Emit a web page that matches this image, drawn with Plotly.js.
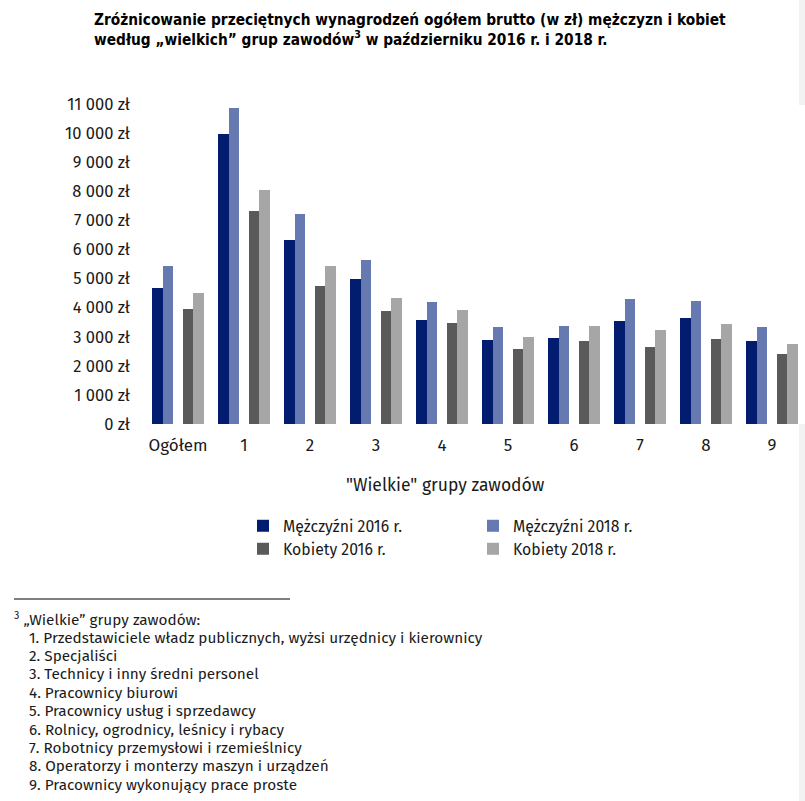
<!DOCTYPE html>
<html>
<head>
<meta charset="utf-8">
<script src="https://cdn.plot.ly/plotly-3.0.1.min.js"></script>
<style>html,body{margin:0;padding:0;background:#fff;}#chart{width:805px;height:801px;}</style>
</head>
<body>
<div id="chart"></div>
<script>
const categories = ["Ogółem", "1", "2", "3", "4", "5", "6", "7", "8", "9"];
const men2016 = [4670, 9960, 6310, 4990, 3560, 2890, 2960, 3550, 3630, 2870];
const men2018 = [5420, 10850, 7210, 5640, 4180, 3330, 3370, 4280, 4230, 3330];
const women2016 = [3940, 7310, 4760, 3890, 3460, 2580, 2860, 2630, 2930, 2390];
const women2018 = [4520, 8030, 5420, 4330, 3910, 2990, 3380, 3230, 3450, 2750];
const seriesNames = ["Mężczyźni 2016 r.", "Mężczyźni 2018 r.", "Kobiety 2016 r.", "Kobiety 2018 r."];
const yTickVals = [0, 1000, 2000, 3000, 4000, 5000, 6000, 7000, 8000, 9000, 10000, 11000];
const yTickText = ["0 zł", "1 000 zł", "2 000 zł", "3 000 zł", "4 000 zł", "5 000 zł", "6 000 zł", "7 000 zł", "8 000 zł", "9 000 zł", "10 000 zł", "11 000 zł"];
const xAxisTitle = "\"Wielkie\" grupy zawodów";
const footnoteHeader = "<sup>3</sup> „Wielkie” grupy zawodów:";
const footnoteItems = [
  "1. Przedstawiciele władz publicznych, wyżsi urzędnicy i kierownicy",
  "2. Specjaliści",
  "3. Technicy i inny średni personel",
  "4. Pracownicy biurowi",
  "5. Pracownicy usług i sprzedawcy",
  "6. Rolnicy, ogrodnicy, leśnicy i rybacy",
  "7. Robotnicy przemysłowi i rzemieślnicy",
  "8. Operatorzy i monterzy maszyn i urządzeń",
  "9. Pracownicy wykonujący prace proste"
];

const W = 805, H = 801;
const mL = 145, mR = 0, mT = 104, mB = 377;
const plotW = W - mL - mR, plotH = H - mT - mB;
const px2x = p => (p - mL) / plotW;
const px2y = p => (H - mB - p) / plotH;

const FONT = "Fira Sans, Noto Sans, Open Sans, sans-serif";
const TXT = "#1a1a1a";
const colors = ["#021c6f", "#6679b0", "#5a5a5a", "#a6a6a6"];
const bw = 0.155;
const offsets = [-2.5 * bw, -1.5 * bw, 0.5 * bw, 1.5 * bw];
const data = [men2016, men2018, women2016, women2018].map((vals, i) => ({
  type: "bar",
  x: categories,
  y: vals,
  name: seriesNames[i],
  marker: {color: colors[i], line: {width: 0}},
  width: bw,
  offset: offsets[i],
  legend: i < 2 ? "legend" : "legend2",
  hoverinfo: "y+name"
}));

const annotations = [];
annotations.push({
  xref: "paper", yref: "paper", x: px2x(445), y: px2y(485), xanchor: "center", yanchor: "middle",
  text: xAxisTitle, showarrow: false,
  font: {family: FONT, size: 17.5, color: TXT}
});
annotations.push({
  xref: "paper", yref: "paper", x: px2x(12), y: px2y(619), xanchor: "left", yanchor: "middle",
  text: footnoteHeader, showarrow: false, align: "left",
  font: {family: FONT, size: 15.3, color: TXT}
});
footnoteItems.forEach((t, i) => {
  annotations.push({
    xref: "paper", yref: "paper", x: px2x(27), y: px2y(637.5 + i * 18.4), xanchor: "left", yanchor: "middle",
    text: t, showarrow: false, align: "left",
    font: {family: FONT, size: 15.3, color: TXT}
  });
});

const legendCommon = {
  orientation: "h", xref: "container", yref: "container", xanchor: "left", yanchor: "middle",
  entrywidth: 185, entrywidthmode: "pixels", font: {family: FONT, size: 15.8, color: TXT},
  bgcolor: "rgba(0,0,0,0)", traceorder: "normal", tracegroupgap: 0
};

const layout = {
  width: W, height: H,
  margin: {l: mL, r: mR, t: mT, b: mB, pad: 0},
  paper_bgcolor: "#ffffff", plot_bgcolor: "#ffffff",
  font: {family: FONT, size: 14, color: TXT},
  title: {
    text: "<b>Zróżnicowanie przeciętnych wynagrodzeń ogółem brutto (w zł) mężczyzn i kobiet<br>według „wielkich” grup zawodów<sup>3</sup> w październiku 2016 r. i 2018 r.</b>",
    xref: "container", yref: "container", x: 94 / W, xanchor: "left", y: 1 - 25 / H, yanchor: "middle",
    font: {family: "DejaVu Sans Condensed, Liberation Sans Narrow, sans-serif", size: 15.3, color: "#000000"}
  },
  showlegend: true,
  barmode: "overlay",
  xaxis: {
    type: "category", range: [-0.5, 9.5], showgrid: false, zeroline: false, showline: false,
    ticks: "", tickfont: {family: FONT, size: 17, color: TXT}, ticklabelstandoff: 9,
    fixedrange: true
  },
  yaxis: {
    range: [0, 11000], tickvals: yTickVals, ticktext: yTickText, showgrid: false, zeroline: false,
    showline: false, ticks: "", tickfont: {family: FONT, size: 16.5, color: TXT}, ticklabelstandoff: 14,
    fixedrange: true
  },
  legend: Object.assign({}, legendCommon, {x: 243 / W, y: 1 - 526 / H}),
  legend2: Object.assign({}, legendCommon, {x: 243 / W, y: 1 - 549 / H}),
  shapes: [
    {type: "line", xref: "paper", yref: "paper", x0: px2x(14), x1: px2x(290), y0: px2y(599), y1: px2y(599), line: {color: "#000000", width: 1}},
    {type: "rect", xref: "paper", yref: "paper", x0: px2x(799), x1: px2x(805), y0: px2y(0), y1: px2y(105), line: {width: 0}, fillcolor: "#f2f2f2", layer: "below"},
    {type: "rect", xref: "paper", yref: "paper", x0: px2x(799), x1: px2x(805), y0: px2y(424), y1: px2y(801), line: {width: 0}, fillcolor: "#f2f2f2", layer: "below"}
  ],
  annotations: annotations,
  bargap: 0
};

Plotly.newPlot("chart", data, layout, {displayModeBar: false, staticPlot: true});
</script>
</body>
</html>
